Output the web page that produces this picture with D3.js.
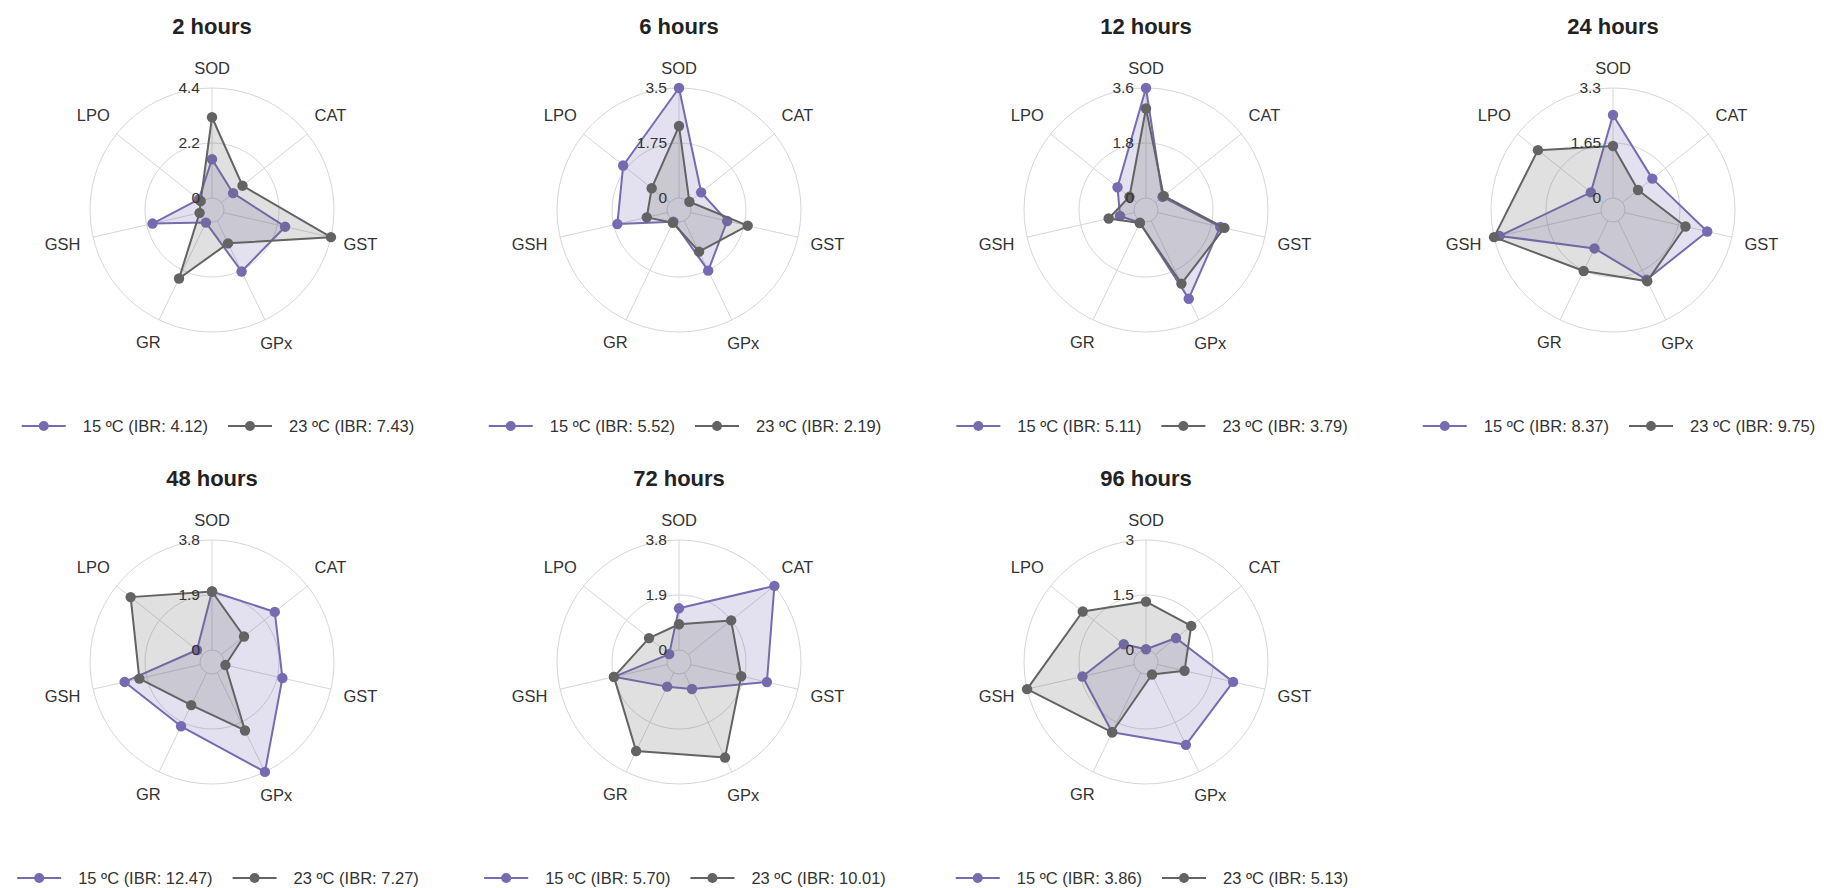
<!DOCTYPE html>
<html>
<head>
<meta charset="utf-8">
<script src="https://cdn.jsdelivr.net/npm/d3@7"></script>
<style>
  body { margin: 0; background: #fff; }
  svg { display: block; font-family: "Liberation Sans", Arial, sans-serif; }
</style>
</head>
<body>
<svg id="chart" width="1824" height="888"></svg>
<script>
// DATA
const axes = ["SOD", "CAT", "GST", "GPx", "GR", "GSH", "LPO"];
const titles = ["2 hours", "6 hours", "12 hours", "24 hours", "48 hours", "72 hours", "96 hours"];
const maxValues = [4.4, 3.5, 3.6, 3.3, 3.8, 3.8, 3];
const tickLabels = [
  ["0", "2.2", "4.4"],
  ["0", "1.75", "3.5"],
  ["0", "1.8", "3.6"],
  ["0", "1.65", "3.3"],
  ["0", "1.9", "3.8"],
  ["0", "1.9", "3.8"],
  ["0", "1.5", "3"],
];
const ibr15 = ["4.12", "5.52", "5.11", "8.37", "12.47", "5.70", "3.86"];
const ibr23 = ["7.43", "2.19", "3.79", "9.75", "7.27", "10.01", "5.13"];

// SOD, CAT, GST, GPx, GR, GSH, LPO
const values15 = [
  [1.55, 0.6, 2.52, 2.25, 0.08, 1.96, 0.2],
  [3.5, 0.52, 1.19, 1.76, 0.03, 1.63, 1.89],
  [3.6, 0.3, 2.1, 2.83, 0.07, 0.48, 0.8],
  [2.49, 1.15, 2.54, 1.96, 0.92, 3.13, 0.49],
  [2.02, 2.36, 2.08, 3.8, 2.05, 2.68, 0.25],
  [1.44, 3.8, 2.7, 0.62, 0.53, 1.89, 0.02],
  [0.02, 0.72, 2.11, 2.18, 1.8, 1.45, 0.45],
];
const values23 = [
  [3.23, 1.08, 4.4, 1.0, 2.56, 0.03, 0.1],
  [2.29, 0.04, 1.86, 1.09, 0.07, 0.67, 0.73],
  [2.93, 0.35, 2.24, 2.28, 0.08, 0.86, 0.3],
  [1.56, 0.6, 1.87, 2.01, 1.67, 3.3, 2.52],
  [2.02, 1.0, 0.06, 2.21, 1.24, 2.16, 3.18],
  [0.89, 1.89, 1.79, 3.25, 3.0, 1.89, 0.91],
  [1.32, 1.25, 0.75, 0.05, 1.8, 3.0, 1.88],
];

// CANVAS SETUP
const svg = d3.select("#chart");
const colors = { c15: "#756bb1", c23: "#636363" };
const fills = { c15: "rgba(117,107,177,0.2)", c23: "rgba(99,99,99,0.2)" };
const innerR = 12,
  outerR = 122,
  colStep = 467,
  rowStep = 452;

const angle = d3
  .scaleLinear()
  .domain([0, axes.length])
  .range([0, 2 * Math.PI]);

// RENDER
titles.forEach((title, p) => {
  const col = p % 4,
    row = Math.floor(p / 4);
  const cx = 212 + col * colStep,
    cy = 210 + row * rowStep;

  const g = svg.append("g").attr("transform", `translate(${cx},${cy})`);

  const r = d3
    .scaleLinear()
    .domain([0, maxValues[p]])
    .range([innerR, outerR]);

  // grid circles
  g.selectAll("circle.grid")
    .data([0, maxValues[p] / 2, maxValues[p]])
    .join("circle")
    .attr("class", "grid")
    .attr("r", (d) => r(d))
    .attr("fill", "none")
    .attr("stroke", "#d6d6d6")
    .attr("stroke-width", 1);

  // spokes
  g.selectAll("line.spoke")
    .data(axes)
    .join("line")
    .attr("class", "spoke")
    .attr("x1", (d, i) => innerR * Math.sin(angle(i)))
    .attr("y1", (d, i) => -innerR * Math.cos(angle(i)))
    .attr("x2", (d, i) => outerR * Math.sin(angle(i)))
    .attr("y2", (d, i) => -outerR * Math.cos(angle(i)))
    .attr("stroke", "#d6d6d6")
    .attr("stroke-width", 1);

  // series
  const series = [
    { key: "c15", values: values15[p] },
    { key: "c23", values: values23[p] },
  ];

  const line = d3
    .lineRadial()
    .angle((d, i) => angle(i))
    .radius((d) => r(d))
    .curve(d3.curveLinearClosed);

  series.forEach((s) => {
    g.append("path")
      .attr("d", line(s.values))
      .attr("fill", fills[s.key])
      .attr("stroke", colors[s.key])
      .attr("stroke-width", 2)
      .attr("stroke-linejoin", "round");
    g.selectAll("circle.pt-" + s.key)
      .data(s.values)
      .join("circle")
      .attr("class", "pt-" + s.key)
      .attr("cx", (d, i) => r(d) * Math.sin(angle(i)))
      .attr("cy", (d, i) => -r(d) * Math.cos(angle(i)))
      .attr("r", 5.2)
      .attr("fill", colors[s.key]);
  });

  // radial tick labels
  g.selectAll("text.tick")
    .data(tickLabels[p])
    .join("text")
    .attr("class", "tick")
    .attr("x", -12)
    .attr("y", (d, i) => -r((maxValues[p] / 2) * i))
    .attr("dy", "0.35em")
    .attr("text-anchor", "end")
    .attr("font-size", 15.5)
    .attr("fill", "#333")
    .text((d) => d);

  // axis labels
  const labels = g
    .selectAll("text.axis")
    .data(axes)
    .join("text")
    .attr("class", "axis")
    .attr("text-anchor", "middle")
    .attr("dy", "0.35em")
    .attr("font-size", 16.5)
    .attr("fill", "#333")
    .text((d) => d);

  labels.each(function (d, i) {
    const w = this.getComputedTextLength() / 2;
    const a = angle(i);
    const dist = outerR + 12 + Math.abs(Math.sin(a)) * w + Math.abs(Math.cos(a)) * 8;
    d3.select(this)
      .attr("x", dist * Math.sin(a))
      .attr("y", -dist * Math.cos(a));
  });

  // title
  g.append("text")
    .attr("x", 0)
    .attr("y", -184)
    .attr("dy", "0.35em")
    .attr("text-anchor", "middle")
    .attr("font-size", 22)
    .attr("font-weight", "bold")
    .attr("fill", "#222")
    .text(title);

  // legend
  const lg = g.append("g").attr("transform", `translate(0,216)`);
  const items = [
    { key: "c15", label: `15 ºC (IBR: ${ibr15[p]})` },
    { key: "c23", label: `23 ºC (IBR: ${ibr23[p]})` },
  ];
  let x = 0;
  const itemGroups = items.map((it) => {
    const ig = lg.append("g").attr("transform", `translate(${x},0)`);
    ig.append("line")
      .attr("x1", 0)
      .attr("x2", 44)
      .attr("stroke", colors[it.key])
      .attr("stroke-width", 2);
    ig.append("circle")
      .attr("cx", 22)
      .attr("r", 5)
      .attr("fill", colors[it.key]);
    const t = ig
      .append("text")
      .attr("x", 61)
      .attr("dy", "0.35em")
      .attr("font-size", 16.5)
      .attr("fill", "#333")
      .text(it.label);
    x += 61 + t.node().getComputedTextLength() + 20;
    return ig;
  });
  const total = x - 20;
  lg.attr("transform", `translate(${6 - total / 2},216)`);
});
</script>
</body>
</html>
